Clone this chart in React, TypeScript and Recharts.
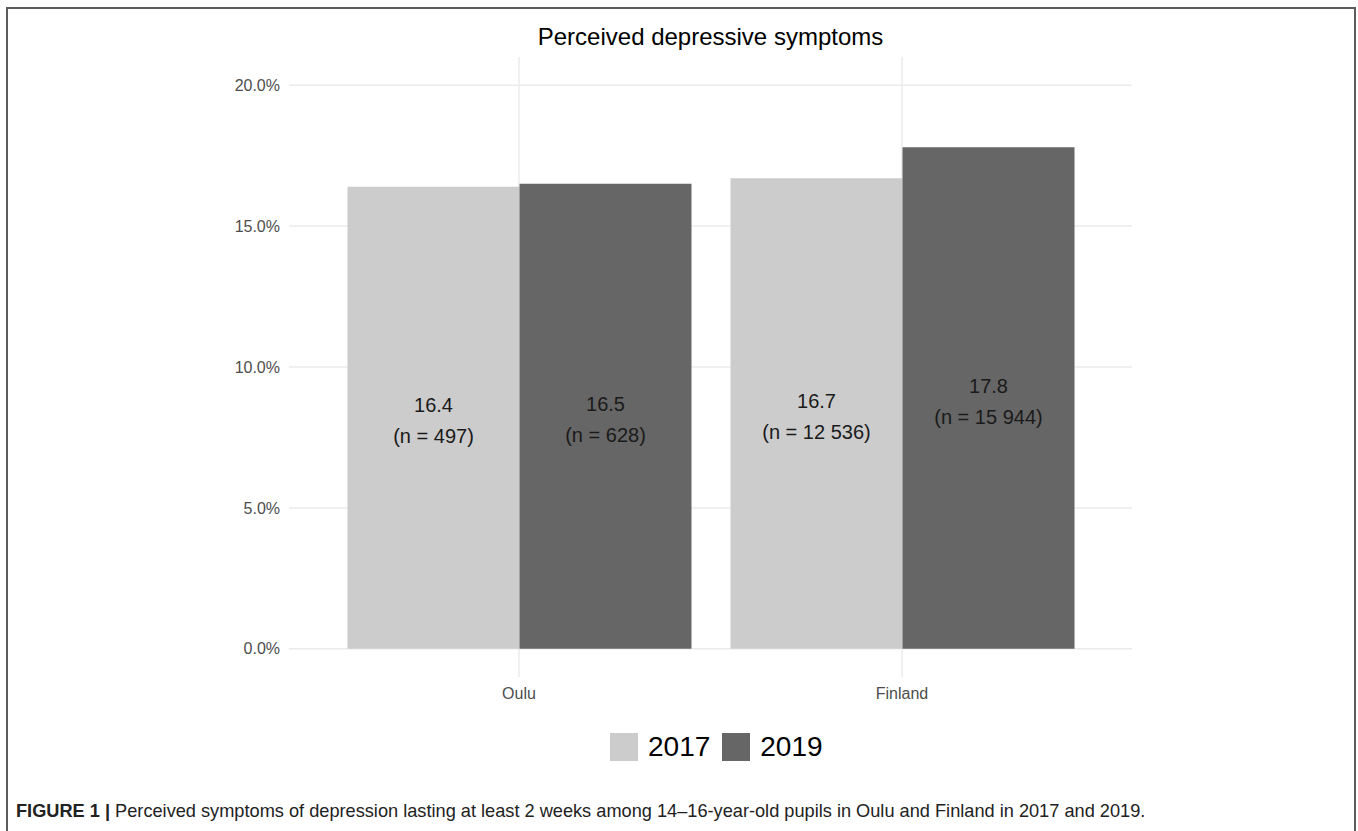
import { Bar, BarChart, CartesianGrid, LabelList, XAxis, YAxis } from 'recharts';

const regions = ['Oulu', 'Finland'];
const pct2017 = [16.4, 16.7];
const pct2019 = [16.5, 17.8];
const n2017 = ['497', '12 536'];
const n2019 = ['628', '15 944'];
const yTicks = [0, 5, 10, 15, 20];

const FONT = '"Liberation Sans", Arial, sans-serif';
const C2017 = '#cccccc';
const C2019 = '#666666';
const FRAME = '#5c5c5c';

const data = regions.map((r, i) => ({ region: r, y2017: pct2017[i], y2019: pct2019[i] }));

const barLabel = (counts: string[]) => (props: any) => {
  const { x, y, width, height, value, index } = props;
  const cx = Number(x) + Number(width) / 2;
  const cy = Number(y) + Number(height) / 2 + 3;
  const st = { fontFamily: FONT, fontSize: 20, fill: '#1a1a1a' };
  return (
    <g>
      <text x={cx} y={cy - 15.5} textAnchor="middle" dominantBaseline="central" {...st}>
        {Number(value).toFixed(1)}
      </text>
      <text x={cx} y={cy + 15.5} textAnchor="middle" dominantBaseline="central" {...st}>
        (n = {counts[index]})
      </text>
    </g>
  );
};

export default function App() {
  return (
    <div style={{ position: 'fixed', left: 0, top: 0, width: 1358, height: 831, overflow: 'hidden', background: '#fff', fontFamily: FONT }}>
      <div style={{ position: 'absolute', left: 289, width: 843, top: 23, textAlign: 'center', fontSize: 24, color: '#000' }}>
        Perceived depressive symptoms
      </div>
      <div style={{ position: 'absolute', left: 0, top: 0 }}>
        <BarChart
          width={1358}
          height={720}
          data={data}
          margin={{ top: 57, right: 226, bottom: 13, left: 229 }}
          barGap={0}
          barSize={172}
        >
          <CartesianGrid stroke="#ebebeb" strokeWidth={1.5} horizontalValues={yTicks} verticalValues={regions} />
          <XAxis
            dataKey="region"
            padding={{ left: 38.5, right: 38.5 }}
            axisLine={false}
            tickLine={false}
            tickSize={0}
            tickMargin={11}
            height={30}
            tick={{ fontFamily: FONT, fontSize: 16, fill: '#4d4d4d' }}
          />
          <YAxis
            domain={[-1, 21]}
            ticks={yTicks}
            allowDataOverflow
            axisLine={false}
            tickLine={false}
            tickSize={0}
            tickMargin={9}
            width={60}
            tickFormatter={(v: number) => `${v.toFixed(1)}%`}
            tick={{ fontFamily: FONT, fontSize: 16, fill: '#4d4d4d' }}
          />
          <Bar dataKey="y2017" fill={C2017} isAnimationActive={false}>
            <LabelList dataKey="y2017" content={barLabel(n2017)} />
          </Bar>
          <Bar dataKey="y2019" fill={C2019} isAnimationActive={false}>
            <LabelList dataKey="y2019" content={barLabel(n2019)} />
          </Bar>
        </BarChart>
      </div>
      <div style={{ position: 'absolute', left: 610, top: 733, display: 'flex', alignItems: 'center', fontSize: 28, color: '#000' }}>
        <span style={{ width: 28, height: 28, background: C2017, display: 'inline-block', marginRight: 10 }} />
        <span style={{ marginRight: 12, lineHeight: '28px' }}>2017</span>
        <span style={{ width: 28, height: 28, background: C2019, display: 'inline-block', marginRight: 10 }} />
        <span style={{ lineHeight: '28px' }}>2019</span>
      </div>
      <div style={{ position: 'absolute', left: 16, top: 801, fontSize: 18.2, color: '#222', fontFamily: FONT, whiteSpace: 'nowrap' }}>
        <b>FIGURE 1 |</b> Perceived symptoms of depression lasting at least 2 weeks among 14–16-year-old pupils in Oulu and Finland in 2017 and 2019.
      </div>
      {/* figure frame: top, left, right (bottom runs off the page) */}
      <div style={{ position: 'absolute', zIndex: 10, left: 6, top: 7, width: 1346, height: 900, border: `2px solid ${FRAME}`, boxSizing: 'content-box' }} />
    </div>
  );
}
